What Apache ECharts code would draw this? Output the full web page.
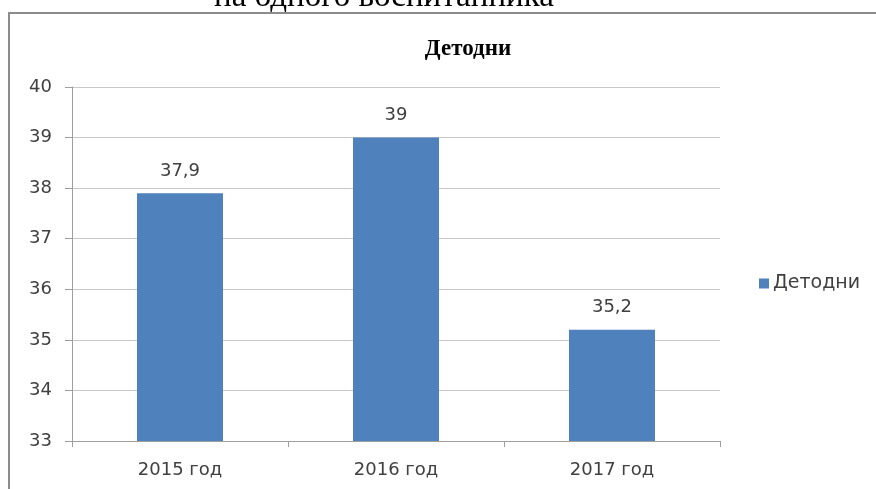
<!DOCTYPE html>
<html>
<head>
<meta charset="utf-8">
<script src="https://cdn.jsdelivr.net/npm/echarts@6/dist/echarts.min.js"></script>
<style>
  html, body { margin: 0; padding: 0; background: #fff; }
  #main { width: 876px; height: 489px; }
</style>
</head>
<body>
<div id="main"></div>
<script>
// данные
const years = ['2015 год', '2016 год', '2017 год']
const detodni = [37.9, 39, 35.2]
const y_min = 33
const y_max = 40

const fmt = (v) => String(v).replace('.', ',')

var myChart = echarts.init(document.getElementById('main'));

var option = {
    animation: false,
    backgroundColor: '#fff',
    title: {
        text: 'Детодни',
        left: 463,
        textAlign: 'center',
        top: 33,
        textStyle: {
            fontFamily: 'Liberation Serif',
            fontWeight: 'bold',
            fontSize: 23,
            color: '#000'
        }
    },
    graphic: [
        {
            // обрезанная подпись сверху
            type: 'text',
            x: 384,
            y: -19,
            style: {
                text: 'на одного воспитанника',
                font: '33px "Liberation Serif"',
                fill: '#000',
                align: 'center'
            }
        },
        {
            // рамка диаграммы
            type: 'rect',
            shape: { x: 9, y: 13, width: 900, height: 500 },
            style: { fill: 'none', stroke: '#8c8c8c', lineWidth: 2 }
        }
    ],
    legend: {
        data: ['Детодни'],
        left: 754,
        top: 269,
        itemWidth: 10,
        itemHeight: 10,
        icon: 'rect',
        itemGap: 5,
        textStyle: {
            fontFamily: 'DejaVu Sans',
            fontSize: 19,
            color: '#404040',
            padding: [0, 0, 0, -1]
        }
    },
    grid: {
        left: 72,
        right: 876 - 720,
        top: 87,
        bottom: 489 - 441,
        containLabel: false
    },
    xAxis: {
        type: 'category',
        data: years,
        axisLine: { lineStyle: { color: '#9e9e9e', width: 1 } },
        axisTick: { show: true, alignWithLabel: false, length: 6, lineStyle: { color: '#9e9e9e' } },
        axisLabel: {
            margin: 20,
            fontFamily: 'DejaVu Sans',
            fontSize: 18,
            color: '#404040'
        }
    },
    yAxis: {
        type: 'value',
        min: y_min,
        max: y_max,
        interval: 1,
        axisLine: { show: true, lineStyle: { color: '#9e9e9e' } },
        axisTick: { show: true, length: 7, lineStyle: { color: '#9e9e9e' } },
        splitLine: { lineStyle: { color: '#c8c8c8' } },
        axisLabel: {
            margin: 20,
            fontFamily: 'DejaVu Sans',
            fontSize: 18,
            color: '#404040'
        }
    },
    series: [
        {
            name: 'Детодни',
            type: 'bar',
            data: detodni,
            barWidth: 86,
            itemStyle: { color: '#4f81bd' },
            label: {
                show: true,
                position: 'top',
                distance: 13,
                formatter: (p) => fmt(p.value),
                fontFamily: 'DejaVu Sans',
                fontSize: 18,
                color: '#404040'
            }
        }
    ]
};

myChart.setOption(option);
</script>
</body>
</html>
